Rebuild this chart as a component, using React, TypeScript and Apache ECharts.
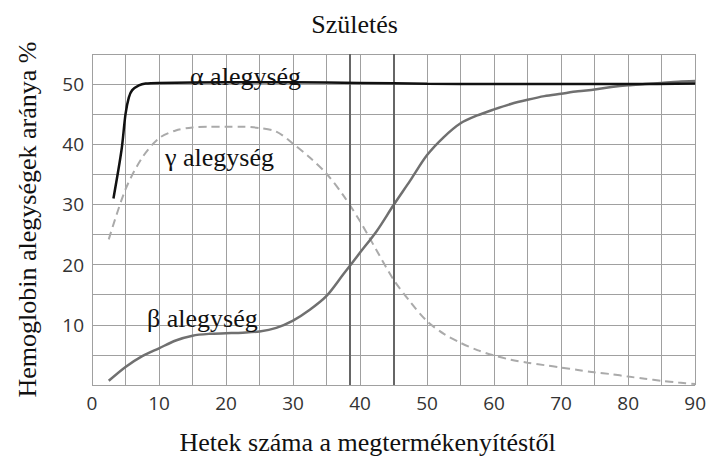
import React, { useEffect, useRef } from "react";
import * as echarts from "echarts";

const titleText = "Születés";
const xName = "Hetek száma a megtermékenyítéstől";
const yName = "Hemoglobin alegységek aránya %";

const alphaWeeks = [3.2, 4.4, 5.0, 5.5, 6, 7, 8, 10, 20, 30, 40, 50, 60, 70, 80, 90];
const alphaValues = [31, 39, 45, 47.8, 49, 49.8, 50.1, 50.2, 50.3, 50.3, 50.2, 50.05, 50, 50, 50, 50.1];

const gammaWeeks = [2.5, 5, 7.5, 10, 12.5, 15, 17.5, 20, 22.5, 25, 27.5, 30, 32.5, 35, 37.5, 40, 42.5, 45, 47.5, 50, 52.5, 55, 57.5, 60, 62.5, 65, 67.5, 70, 72.5, 75, 77.5, 80, 82.5, 85, 87.5, 90];
const gammaValues = [24.2, 32.5, 37.8, 41, 42.3, 42.8, 42.9, 42.9, 42.9, 42.7, 42.1, 40.1, 37.8, 35.1, 31.5, 27.2, 22.3, 17.5, 13.8, 10.6, 8.5, 7.0, 5.8, 4.9, 4.2, 3.7, 3.3, 2.9, 2.5, 2.1, 1.8, 1.4, 1.05, 0.7, 0.4, 0.15];

const betaWeeks = [2.5, 5, 7.5, 10, 12.5, 15, 17.5, 20, 22.5, 25, 27.5, 30, 32.5, 35, 37.5, 40, 42.5, 45, 47.5, 50, 52.5, 55, 57.5, 60, 62.5, 65, 67.5, 70, 72.5, 75, 77.5, 80, 82.5, 85, 87.5, 90];
const betaValues = [0.7, 3.0, 4.8, 6.1, 7.4, 8.2, 8.5, 8.6, 8.7, 8.9, 9.5, 10.7, 12.5, 14.8, 18.4, 22.0, 25.6, 29.9, 34.0, 38.2, 41.2, 43.5, 44.8, 45.8, 46.7, 47.4, 48.0, 48.4, 48.8, 49.1, 49.5, 49.8, 50.0, 50.2, 50.4, 50.5];

const markerWeeks = [38.5, 45];

const seriesLabels = ["α alegység", "γ alegység", "β alegység"];

const zip = (xs: number[], ys: number[]) => xs.map((x, i) => [x, ys[i]]);

const serif = "'Liberation Serif', 'DejaVu Serif', serif";
const sans = "'Open Sans', 'Noto Sans', sans-serif";

export default function App() {
  const ref = useRef<HTMLDivElement>(null);
  useEffect(() => {
    if (!ref.current) return;
    const chart = echarts.init(ref.current, undefined, { renderer: "svg" });
    const gridColor = "#a0a0a0";
    chart.setOption({
      animation: false,
      backgroundColor: "#ffffff",
      title: {
        text: titleText,
        left: "center",
        top: 6,
        textStyle: { fontFamily: serif, fontSize: 26, fontWeight: "normal", color: "#111" },
      },
      grid: { left: 92, right: 11, top: 54, bottom: 76 },
      xAxis: {
        type: "value",
        min: 0,
        max: 90,
        interval: 5,
        name: xName,
        nameLocation: "middle",
        nameGap: 44,
        nameTextStyle: { fontFamily: serif, fontSize: 26, color: "#111", padding: [0, 52, 0, 0] },
        axisLine: { show: false },
        axisTick: { show: false },
        axisLabel: {
          margin: 8,
          fontFamily: sans,
          fontSize: 19,
          color: "#333",
          formatter: (v: number) => (v % 10 === 0 ? String(v) : ""),
        },
        splitLine: { show: true, lineStyle: { color: gridColor, width: 1 } },
      },
      yAxis: {
        type: "value",
        min: 0,
        max: 55,
        interval: 5,
        name: yName,
        nameLocation: "middle",
        nameGap: 52,
        nameTextStyle: { fontFamily: serif, fontSize: 26, color: "#111" },
        axisLine: { show: false },
        axisTick: { show: false },
        axisLabel: {
          margin: 8,
          fontFamily: sans,
          fontSize: 19,
          color: "#333",
          formatter: (v: number) => (v % 10 === 0 && v > 0 && v <= 50 ? String(v) : ""),
        },
        splitLine: { show: true, lineStyle: { color: gridColor, width: 1 } },
      },
      series: [
        {
          name: "gamma",
          type: "line",
          data: zip(gammaWeeks, gammaValues),
          smooth: 0.3,
          showSymbol: false,
          lineStyle: { color: "#aaaaaa", width: 2, type: [8, 5] },
          z: 3,
        },
        {
          name: "beta",
          type: "line",
          data: zip(betaWeeks, betaValues),
          smooth: 0.3,
          showSymbol: false,
          lineStyle: { color: "#707070", width: 2.5 },
          z: 4,
        },
        {
          name: "alpha",
          type: "line",
          data: zip(alphaWeeks, alphaValues),
          smooth: 0.3,
          showSymbol: false,
          lineStyle: { color: "#111111", width: 2.5 },
          z: 5,
          markLine: {
            silent: true,
            symbol: "none",
            label: { show: false },
            lineStyle: { color: "#666666", width: 2, type: "solid" },
            data: markerWeeks.map((w) => ({ xAxis: w })),
          },
        },
      ],
      graphic: [
        {
          type: "text",
          x: 190,
          y: 76,
          style: { text: seriesLabels[0], fontFamily: serif, fontSize: 26, fill: "#111", textVerticalAlign: "middle" },
          z: 10,
        },
        {
          type: "text",
          x: 165,
          y: 157,
          style: { text: seriesLabels[1], fontFamily: serif, fontSize: 26, fill: "#111", textVerticalAlign: "middle" },
          z: 10,
        },
        {
          type: "text",
          x: 147,
          y: 318,
          style: { text: seriesLabels[2], fontFamily: serif, fontSize: 26, fill: "#111", textVerticalAlign: "middle" },
          z: 10,
        },
      ],
    });
    return () => chart.dispose();
  }, []);
  return <div ref={ref} style={{ position: "fixed", left: 0, top: 0, width: 709, height: 461 }} />;
}
